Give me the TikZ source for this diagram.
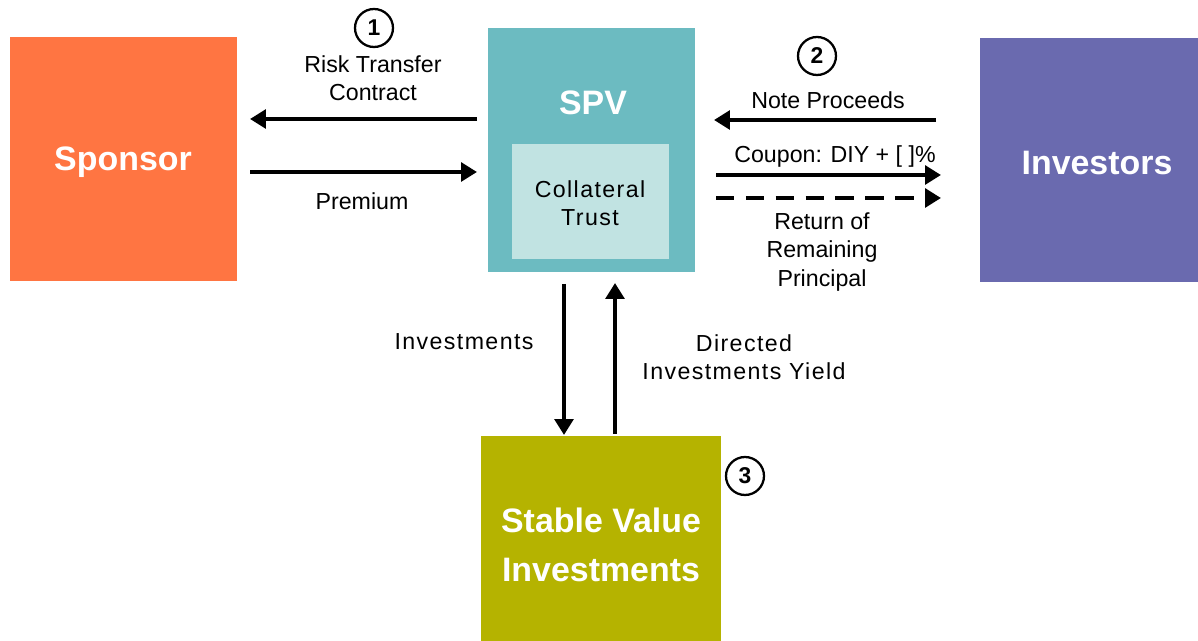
\documentclass[tikz,border=0pt]{standalone}
\usepackage{fontspec}
\setmainfont{Liberation Sans}
\usetikzlibrary{arrows.meta}
\definecolor{sponsorc}{HTML}{FF7542}
\definecolor{spvc}{HTML}{6CBBC1}
\definecolor{trustc}{HTML}{C1E3E2}
\definecolor{investc}{HTML}{6A6AAF}
\definecolor{stablec}{HTML}{B5B300}
\tikzset{
  box/.style={inner sep=0pt, outer sep=0pt, draw=none},
  big/.style={text=white, font=\fontsize{19.3}{23}\selectfont\bfseries, align=center, inner sep=0pt},
  lbl/.style={font=\fontsize{13.2}{16}\selectfont, align=center, inner sep=0pt},
  wlbl/.style={lbl, font=\fontsize{13.2}{16}\selectfont\addfontfeature{LetterSpace=6}},
  arr/.style={line width=2.8pt, -{Triangle[length=9pt,width=10.5pt]}},
  darr/.style={arr, dash pattern=on 10.5pt off 6.5pt},
  num/.style={circle, draw, line width=1.3pt, minimum size=0.76cm, inner sep=0pt, font=\fontsize{13}{15}\selectfont\bfseries}
}
\begin{document}
\begin{tikzpicture}[x=0.02cm, y=-0.02cm]
\useasboundingbox (0,0) rectangle (1198,641);
% boxes
\node[box, fill=sponsorc, minimum width=4.54cm, minimum height=4.88cm] (sponsor) at (123.5,159) {};
\node[big] (sponsorT) at (123,162) {Sponsor};
\node[box, fill=spvc, minimum width=4.14cm, minimum height=4.88cm] (spv) at (591.5,150) {};
\node[big] (spvT) at (593,103) {SPV};
\node[box, fill=trustc, minimum width=3.14cm, minimum height=2.30cm] (trust) at (590.5,201.5) {};
\node[wlbl] (trustT) at (590,203) {Collateral\\Trust};
\node[box, fill=investc, minimum width=4.36cm, minimum height=4.88cm] (inv) at (1089,160) {};
\node[big] (invT) at (1097,163) {Investors};
\node[box, fill=stablec, minimum width=4.80cm, minimum height=4.10cm] (stable) at (601,538.5) {};
\node[big, font=\fontsize{19.3}{28}\selectfont\bfseries] (stableT) at (601,545) {Stable Value\\Investments};
% numbers
\node[num] (n1) at (374,28) {1};
\node[num] (n2) at (817,56) {2};
\node[num] (n3) at (745,476) {3};
% coordinates
\coordinate (a1s) at (477,119); \coordinate (a1e) at (250,119);
\coordinate (a2s) at (250,172); \coordinate (a2e) at (477,172);
\coordinate (b1s) at (936,120); \coordinate (b1e) at (714,120);
\coordinate (b2s) at (716,175); \coordinate (b2e) at (941,175);
\coordinate (b3s) at (716,198); \coordinate (b3e) at (941,198);
\coordinate (c1s) at (564,284); \coordinate (c1e) at (564,435);
\coordinate (c2s) at (615,434); \coordinate (c2e) at (615,283);
% arrows
\draw[arr] (a1s) -- (a1e);
\draw[arr] (a2s) -- (a2e);
\draw[arr] (b1s) -- (b1e);
\draw[arr] (b2s) -- (b2e);
\draw[darr] (b3s) -- (b3e);
\draw[arr] (c1s) -- (c1e);
\draw[arr] (c2s) -- (c2e);
% labels
\node[lbl] (l1) at (373,78) {Risk Transfer\\Contract};
\node[lbl] (l2) at (362,201) {Premium};
\node[lbl] (l3) at (828,100) {Note Proceeds};
\node[lbl] (l4) at (835,157) {Coupon: DIY + [ ]\%};
\node[lbl] (l5) at (822,252) {Return of\\Remaining\\Principal};
\node[wlbl] (l6) at (464,342) {Investments};
\node[wlbl] (l7) at (744,357) {Directed\\Investments Yield};
\end{tikzpicture}
\end{document}
